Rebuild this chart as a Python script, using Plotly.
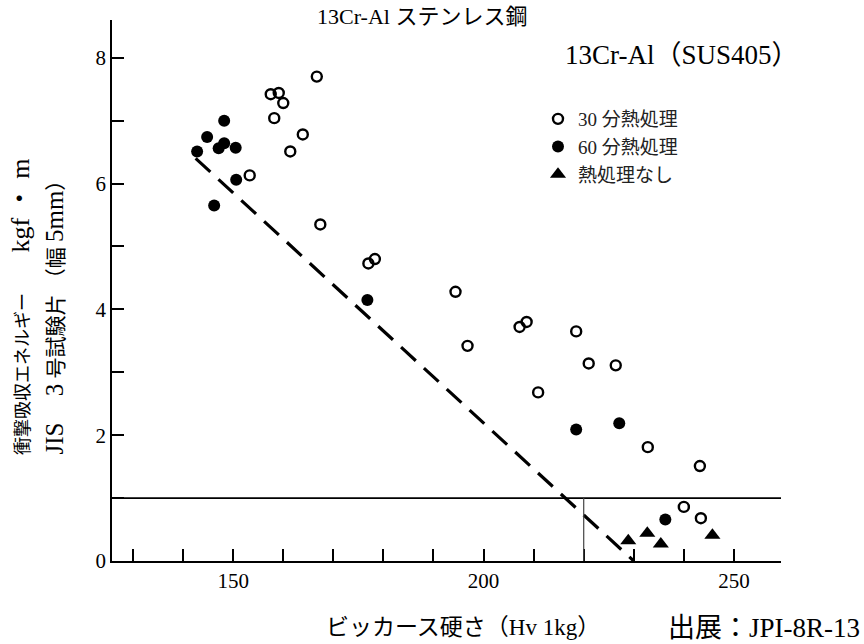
import plotly.graph_objects as go

# ---- data ----
hv_30 = [166.7, 157.5, 159.1, 160.0, 158.2, 163.9, 161.4, 153.3, 167.4, 177.0, 178.3,
         194.4, 196.8, 207.2, 208.6, 218.5, 221.0, 226.4, 210.9, 232.8, 243.2, 240.0, 243.4]
e_30 = [7.70, 7.42, 7.44, 7.28, 7.04, 6.78, 6.51, 6.13, 5.35, 4.73, 4.80,
        4.28, 3.42, 3.72, 3.80, 3.65, 3.14, 3.11, 2.68, 1.81, 1.51, 0.86, 0.68]

hv_60 = [142.8, 144.8, 148.2, 147.1, 148.2, 150.5, 150.6, 146.2, 176.8, 218.5, 227.1, 236.3]
e_60 = [6.51, 6.74, 7.00, 6.56, 6.64, 6.57, 6.06, 5.65, 4.15, 2.09, 2.19, 0.66]

hv_none = [228.9, 232.7, 235.4, 245.7]
e_none = [0.32, 0.44, 0.27, 0.41]

fit_hv = [142.5, 230.0]
fit_e = [6.40, 0.0]

limit_energy = 1.0
limit_hv = 220

x_ticks = [130, 140, 150, 160, 170, 180, 190, 200, 210, 220, 230, 240, 250]
x_labels = ["", "", "150", "", "", "", "", "200", "", "", "", "", "250"]
y_ticks = [0, 1, 2, 3, 4, 5, 6, 7, 8]
y_labels = ["0", "", "2", "", "4", "", "6", "", "8"]

labels = ["30 分熱処理", "60 分熱処理", "熱処理なし"]

SERIF = "Liberation Serif, Noto Sans CJK JP, serif"

# ---- layout geometry (pixels) ----
W, H = 864, 644
L, R, T, B = 112, 83, 20, 83
pw, ph = W - L - R, H - T - B


def px(x):
    return (x - L) / pw


def py(y):
    return (H - B - y) / ph


fig = go.Figure()

fig.add_trace(go.Scatter(
    x=fit_hv, y=fit_e, mode="lines", showlegend=False,
    line=dict(color="black", width=3.2, dash="20px,11px"), hoverinfo="skip"))

fig.add_trace(go.Scatter(
    x=hv_30, y=e_30, mode="markers", name=labels[0],
    marker=dict(symbol="circle-open", size=10, color="black", line=dict(width=2.4, color="black"))))
fig.add_trace(go.Scatter(
    x=hv_60, y=e_60, mode="markers", name=labels[1],
    marker=dict(symbol="circle", size=12, color="black")))
fig.add_trace(go.Scatter(
    x=hv_none, y=e_none, mode="markers", name=labels[2],
    marker=dict(symbol="triangle-up", size=14, color="black")))

fig.add_shape(type="line", xref="paper", x0=0, x1=1, yref="y", y0=limit_energy, y1=limit_energy,
              line=dict(color="black", width=1.6))
fig.add_shape(type="line", xref="x", x0=limit_hv, x1=limit_hv, yref="y", y0=0, y1=limit_energy,
              line=dict(color="#444", width=1.2))

ann = [
    dict(text="13Cr-Al ステンレス鋼", x=px(422), y=py(17), size=22),
    dict(text="13Cr-Al（SUS405）", x=px(681), y=py(55), size=27),
    dict(text="ビッカース硬さ（Hv 1kg）", x=px(463), y=py(627), size=23),
    dict(text="出展：JPI-8R-13", x=px(764), y=py(628), size=27),
]
for a in ann:
    fig.add_annotation(text=a["text"], xref="paper", yref="paper", x=a["x"], y=a["y"],
                       showarrow=False, xanchor="center", yanchor="middle",
                       font=dict(family=SERIF, size=a["size"], color="black"))

fig.add_annotation(text="衝撃吸収エネルギー　　 <span style='font-size:26px'>kgf ・ m</span>",
                   xref="paper", yref="paper",
                   x=px(20), y=py(457), textangle=-90, showarrow=False,
                   xanchor="center", yanchor="bottom",
                   font=dict(family=SERIF, size=18, color="black"))
fig.add_annotation(text="<span style='font-size:25px'>JIS</span>　 <span style='font-size:25px'>3</span> 号試験片 （幅 <span style='font-size:25px'>5mm</span>）",
                   xref="paper", yref="paper",
                   x=px(54), y=py(457), textangle=-90, showarrow=False,
                   xanchor="center", yanchor="bottom",
                   font=dict(family=SERIF, size=21, color="black"))

fig.update_layout(
    width=W, height=H,
    margin=dict(l=L, r=R, t=T, b=B),
    paper_bgcolor="white", plot_bgcolor="white",
    font=dict(family=SERIF, size=20, color="black"),
    showlegend=True,
    legend=dict(x=px(538), y=py(100), xanchor="left", yanchor="top",
                bgcolor="rgba(0,0,0,0)", font=dict(family=SERIF, size=19, color="#222"),
                itemwidth=30, tracegroupgap=0),
    xaxis=dict(range=[125.8, 259.4], tickvals=x_ticks, ticktext=x_labels,
               ticks="inside", ticklen=12, tickwidth=1.5, tickcolor="black",
               showline=True, linecolor="black", linewidth=1.6,
               showgrid=False, zeroline=False, mirror=False,
               tickfont=dict(family=SERIF, size=21)),
    yaxis=dict(range=[0, 8.6], tickvals=y_ticks, ticktext=y_labels,
               ticks="inside", ticklen=12, tickwidth=1.5, tickcolor="black",
               showline=True, linecolor="black", linewidth=1.6,
               showgrid=False, zeroline=False, mirror=False,
               tickfont=dict(family=SERIF, size=21)),
)

fig.write_html("out.html")
